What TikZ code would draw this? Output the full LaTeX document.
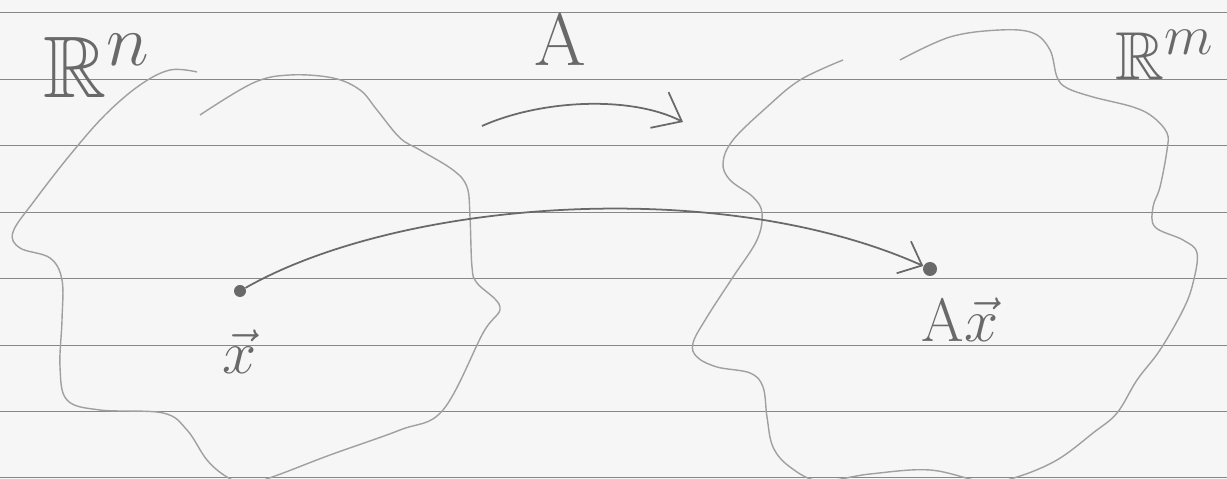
\documentclass[tikz,border=0pt]{standalone}
\usepackage{amssymb}
\usetikzlibrary{arrows.meta}
\definecolor{paper}{RGB}{246,246,246}
\definecolor{ruling}{RGB}{135,135,135}
\definecolor{pencil}{RGB}{160,160,160}
\definecolor{ink}{RGB}{105,105,105}

\begin{document}
\begin{tikzpicture}[x=0.2mm,y=-0.2mm,
 rule/.style={draw=ruling,line width=0.55pt},
 blob/.style={draw=pencil,line width=0.8pt},
 dot/.style={circle,fill=ink,inner sep=0pt,minimum size=2.4mm},
 lbl/.style={text=ink,inner sep=0pt,font=\Huge},
 arr/.style={draw=ink,line width=1pt,-{Straight Barb[length=5mm,width=8mm,line width=1pt]}}]
\fill[paper] (0,0) rectangle (1227,479);
\useasboundingbox (0,0) rectangle (1227,479);
\clip (0,0) rectangle (1227,479);
% ruled paper
\foreach \ry in {12.5,79.5,145.5,212.5,278.5,345.5,411.5,477.5}
  \draw[rule] (0,\ry) -- (1227,\ry);
% domain R^n
\draw[blob] plot[smooth,tension=0.6] coordinates {(197,72) (170,70) (140,85) (105,115) (70,155) (35,200)
 (13,232) (20,248) (50,258) (62,280) (62,320) (60,367) (67,400) (100,410) (163,413) (187,430)
 (207,460) (227,477) (247,484) (275,476) (330,455) (400,430) (443,410) (483,333) (500,307)
 (477,283) (472,267) (470,217) (467,187) (453,170) (420,150) (400,138) (377,110) (360,90)
 (333,78) (290,75) (253,83) (200,115)};
% codomain R^m
\draw[blob] plot[smooth,tension=0.6] coordinates {(843,60) (800,80) (767,107) (733,140) (723,163)
 (730,180) (753,197) (762,213) (757,240) (733,277) (707,317) (693,343) (697,357) (717,367)
 (750,373) (763,387) (767,417) (773,447) (790,467) (820,481) (870,474) (930,470) (985,482)
 (1017,477) (1057,460) (1093,433) (1117,413) (1137,380) (1160,350) (1183,310) (1193,283)
 (1197,253) (1183,240) (1155,227) (1153,207) (1160,187) (1167,150) (1167,133) (1153,117)
 (1133,107) (1093,97) (1067,88) (1057,77) (1050,50) (1033,33) (1000,30) (950,37) (900,60)};
% labels
\node[lbl,scale=2.0] (Rn) at (97,66) {$\mathbb{R}^n$};
\node[lbl,scale=1.55] (Rm) at (1165,55) {$\mathbb{R}^m$};
\node[lbl,scale=1.7] (mapA) at (560,40) {$\mathrm{A}$};
% points
\node[dot] (x) at (240,291) {};
\node[dot,minimum size=2.8mm] (Ax) at (930,269) {};
\node[lbl,scale=1.4] (xlbl) at (240,352) {$\vec{x}$};
\node[lbl,scale=1.4] (Axlbl) at (960,320) {$\mathrm{A}\vec{x}$};
% map arrow
\coordinate (Astart) at (482,126);
\coordinate (Aend) at (683,122);
\draw[arr] (Astart) .. controls (540,100) and (630,95) .. (Aend);
% image of x
\draw[arr,-{Straight Barb[length=4mm,width=7mm,line width=1pt]}] (x) .. controls (400,200) and (720,175) .. (Ax);
\end{tikzpicture}
\end{document}
